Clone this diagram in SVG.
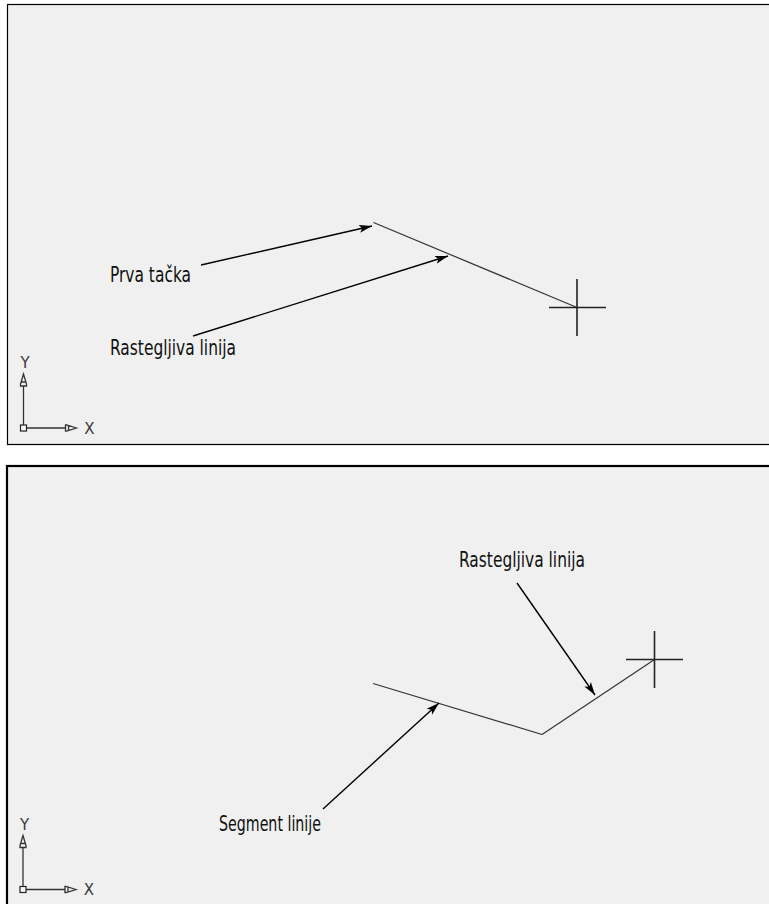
<svg xmlns="http://www.w3.org/2000/svg" width="769" height="904" viewBox="0 0 769 904">
  <style>
    .panel { fill: #f0f0f0; stroke: #000; }
    .label { font-family: "Liberation Sans Narrow", "DejaVu Sans Condensed", "Liberation Sans", sans-serif; font-stretch: condensed; font-size: 21.5px; fill: #111; }
    .axis-label { font-family: "DejaVu Sans", "Liberation Sans", sans-serif; font-size: 15px; fill: #3a3a3a; }
    .leader { stroke: #000; stroke-width: 1.4; fill: none; marker-end: url(#arrow); }
    .rubber { stroke: #333; stroke-width: 1.2; fill: none; }
    .cross { stroke: #222; stroke-width: 1.6; }
    .ucs { stroke: #333; stroke-width: 1.3; fill: none; }
  </style>
  <defs>
    <marker id="arrow" markerUnits="userSpaceOnUse" markerWidth="14" markerHeight="10" viewBox="0 0 14 10" refX="13" refY="5" orient="auto">
      <path d="M0,1 L13,5 L0,9 L3,5 Z" fill="#000"/>
    </marker>
    <!-- coordinate system icon, origin square at (0,0) -->
    <g id="ucs-icon">
      <rect x="-3" y="-3" width="6" height="6" fill="#f8f8f8" stroke="#222" stroke-width="1.2"/>
      <line class="ucs" x1="0" y1="-3" x2="0" y2="-42"/>
      <path class="ucs" d="M0,-54 L-3,-44 L-3,-42 L3,-42 L3,-44 Z M-2.5,-46 L2.5,-46"/>
      <line class="ucs" x1="3" y1="0" x2="42" y2="0"/>
      <path class="ucs" d="M53,0 L43,-3 L42,-3 L42,3 L43,3 Z M45,-2.5 L45,2.5"/>
      <text class="axis-label" x="1.5" y="-60" text-anchor="middle">Y</text>
      <text class="axis-label" x="66" y="5.5" text-anchor="middle">X</text>
    </g>
  </defs>

  <rect width="769" height="904" fill="#fff"/>

  <!-- upper view: first point picked, rubber-band line follows cursor -->
  <g id="view-top">
    <rect class="panel" x="7.5" y="4.5" width="775" height="440" stroke-width="1.2"/>
    <use href="#ucs-icon" x="23.5" y="428"/>
  </g>
  <g id="rubber-line-top">
    <line class="rubber" x1="373.5" y1="222.5" x2="577" y2="307.5"/>
  </g>
  <g id="cursor-top">
    <line class="cross" x1="549" y1="307.5" x2="606" y2="307.5"/>
    <line class="cross" x1="577" y1="279" x2="577" y2="336"/>
  </g>
  <g id="label-prva-tacka">
    <text class="label" x="110" y="282" textLength="81" lengthAdjust="spacingAndGlyphs">Prva tačka</text>
  </g>
  <g id="label-rastegljiva-top">
    <text class="label" x="110" y="355" textLength="126" lengthAdjust="spacingAndGlyphs">Rastegljiva linija</text>
  </g>

  <!-- lower view: first segment fixed, rubber band continues from its end -->
  <g id="view-bottom">
    <rect class="panel" x="7" y="466" width="775" height="460" stroke-width="2.2"/>
    <use href="#ucs-icon" x="23" y="889.5"/>
  </g>
  <g id="segment-bottom">
    <polyline class="rubber" points="373,683.5 542,734.5"/>
  </g>
  <g id="rubber-line-bottom">
    <line class="rubber" x1="542" y1="734.5" x2="654.5" y2="659.5"/>
  </g>
  <g id="cursor-bottom">
    <line class="cross" x1="626" y1="659.5" x2="683" y2="659.5"/>
    <line class="cross" x1="654.5" y1="631" x2="654.5" y2="688"/>
  </g>
  <g id="label-rastegljiva-bottom">
    <text class="label" x="459" y="567" textLength="126" lengthAdjust="spacingAndGlyphs">Rastegljiva linija</text>
  </g>
  <g id="label-segment">
    <text class="label" x="219" y="831" textLength="102" lengthAdjust="spacingAndGlyphs">Segment linije</text>
  </g>

  <!-- leader arrows -->
  <g id="connectors">
    <line class="leader" x1="201" y1="265" x2="372" y2="226"/>
    <line class="leader" x1="193" y1="336" x2="448" y2="256"/>
    <line class="leader" x1="517" y1="583" x2="595" y2="695"/>
    <line class="leader" x1="323" y1="809" x2="439" y2="703"/>
  </g>
</svg>
